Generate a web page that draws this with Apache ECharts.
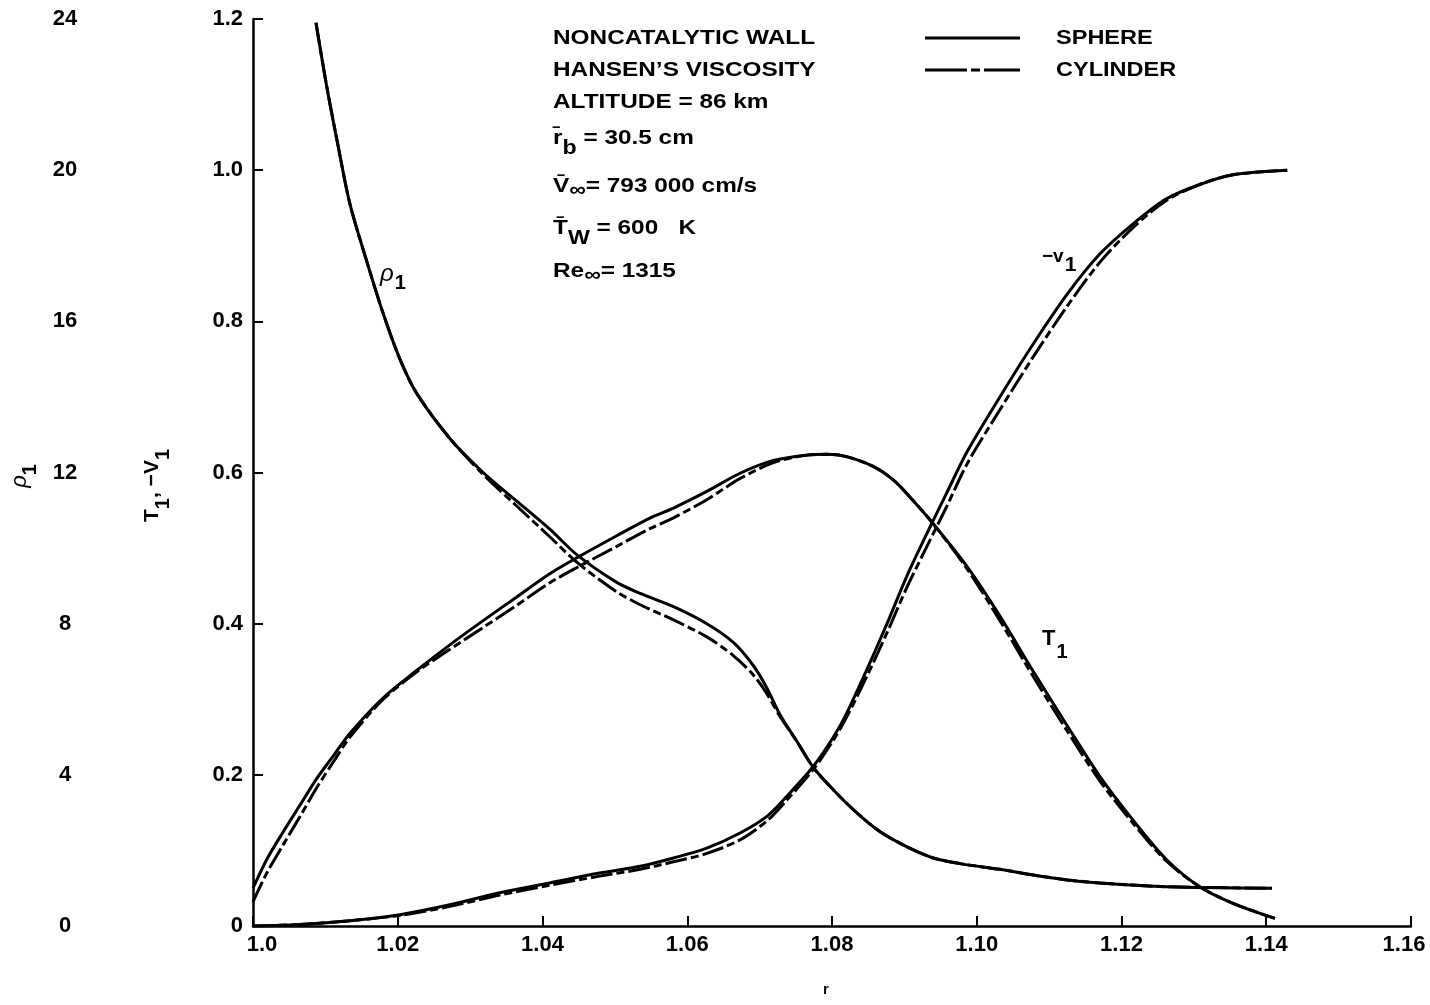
<!DOCTYPE html>
<html>
<head>
<meta charset="utf-8">
<script src="https://cdn.jsdelivr.net/npm/echarts/dist/echarts.min.js"></script>
<style>
  html, body { margin: 0; padding: 0; background: #fff; }
  #chart { width: 1430px; height: 1005px; }
</style>
</head>
<body>
<div id="chart"></div>
<script>
// Temperature T1 across the shock layer
const rTemp = [1.0, 1.0019, 1.0042, 1.0065, 1.0088, 1.0111, 1.0134, 1.018, 1.0226, 1.0272, 1.0318, 1.0364,
  1.041, 1.0449, 1.0502, 1.0549, 1.0581, 1.0627, 1.0673, 1.0719, 1.0765, 1.0793, 1.082, 1.0857, 1.0885,
  1.0912, 1.094, 1.0987, 1.1032, 1.1078, 1.1125, 1.117, 1.1216, 1.1262, 1.1308, 1.1354, 1.1412];
const tempSphere = [0.05, 0.088, 0.125, 0.16, 0.195, 0.225, 0.255, 0.302, 0.338, 0.372, 0.404, 0.435,
  0.466, 0.488, 0.516, 0.54, 0.553, 0.575, 0.599, 0.616, 0.623, 0.624, 0.621, 0.608, 0.59,
  0.563, 0.532, 0.475, 0.41, 0.337, 0.265, 0.198, 0.14, 0.088, 0.052, 0.030, 0.010];
const tempCylinder = [0.032, 0.07, 0.108, 0.145, 0.183, 0.217, 0.25, 0.3, 0.336, 0.366, 0.395, 0.424,
  0.454, 0.475, 0.502, 0.526, 0.54, 0.564, 0.592, 0.613, 0.623, 0.624, 0.621, 0.608, 0.59,
  0.563, 0.532, 0.472, 0.404, 0.33, 0.258, 0.192, 0.136, 0.086, 0.052, 0.030, 0.010];

// Normal velocity -v1
const rVel = [1.0, 1.0065, 1.0134, 1.0203, 1.0272, 1.0341, 1.041, 1.0479, 1.0535, 1.0581, 1.0627, 1.0673,
  1.071, 1.0737, 1.0774, 1.0802, 1.082, 1.0848, 1.0876, 1.0903, 1.0931, 1.0958, 1.0987, 1.1032,
  1.1078, 1.1125, 1.117, 1.1216, 1.1262, 1.1308, 1.1354, 1.1429];
const velSphere = [0.0, 0.002, 0.007, 0.015, 0.028, 0.044, 0.057, 0.070, 0.079, 0.090, 0.103, 0.123,
  0.145, 0.171, 0.211, 0.25, 0.281, 0.339, 0.40, 0.462, 0.519, 0.572, 0.628, 0.70,
  0.77, 0.836, 0.889, 0.929, 0.962, 0.981, 0.994, 1.0];
const velCylinder = [0.0, 0.002, 0.007, 0.014, 0.026, 0.041, 0.054, 0.066, 0.075, 0.085, 0.096, 0.114,
  0.139, 0.166, 0.207, 0.246, 0.276, 0.33, 0.388, 0.447, 0.502, 0.554, 0.612, 0.683,
  0.753, 0.82, 0.878, 0.924, 0.96, 0.981, 0.994, 1.0];

// Density rho1 (read on the outer left scale)
const rDens = [1.0087, 1.0102, 1.0118, 1.0134, 1.0157, 1.018, 1.0203, 1.0226, 1.0272, 1.0318, 1.0364,
  1.041, 1.0449, 1.0502, 1.0535, 1.0581, 1.0627, 1.0664, 1.0691, 1.071, 1.0728, 1.0751, 1.0774,
  1.0802, 1.0834, 1.0866, 1.0903, 1.094, 1.0977, 1.1032, 1.1078, 1.1125, 1.117, 1.1262, 1.1408];
const densSphere = [23.9, 22.2, 20.6, 19.1, 17.6, 16.2, 15.0, 14.1, 12.9, 12.0, 11.25,
  10.5, 9.8, 9.1, 8.8, 8.45, 8.0, 7.5, 6.9, 6.3, 5.6, 4.9, 4.2,
  3.6, 3.0, 2.5, 2.1, 1.8, 1.65, 1.5, 1.35, 1.22, 1.14, 1.04, 1.0];
const densCylinder = [23.9, 22.2, 20.6, 19.1, 17.6, 16.2, 15.0, 14.1, 12.9, 11.95, 11.12,
  10.3, 9.6, 8.85, 8.5, 8.1, 7.65, 7.15, 6.65, 6.15, 5.55, 4.9, 4.2,
  3.6, 3.0, 2.5, 2.1, 1.8, 1.65, 1.5, 1.35, 1.22, 1.14, 1.04, 1.0];

// Flow conditions block
const conditionLines = [
  '{m|NONCATALYTIC WALL}',
  '{m|HANSEN\u2019S VISCOSITY}',
  '{m|ALTITUDE = 86 km}',
  '{m|r\u0304}{s|b}{m| = 30.5 cm}',
  '{m|V\u0304}{i|\u221E}{m|= 793 000 cm/s}',
  '{m|T\u0304}{s|W}{m| = 600   K}',
  '{m|Re}{i|\u221E}{m|= 1315}'
];
const conditionCenters = [38, 70, 102, 138, 186, 228, 271];
const legendNames = ['SPHERE', 'CYLINDER'];

const F = '"Liberation Sans", Arial, Helvetica, sans-serif';
const BLACK = '#000';

function pairs(xs, ys) { return xs.map((x, i) => [x, ys[i]]); }

const solidLine = { color: BLACK, width: 3 };
const dashDotLine = { color: BLACK, width: 3, type: [22, 4, 8, 4] };

function curve(name, data, lineStyle, yAxisIndex) {
  return {
    type: 'line', name, data, yAxisIndex,
    showSymbol: false, smooth: 0.3,
    lineStyle, itemStyle: { color: BLACK }, silent: true
  };
}

const textRich = {
  m: { fontFamily: F, fontWeight: 'bold', fontSize: 21, lineHeight: 22, verticalAlign: 'top', color: BLACK },
  s: { fontFamily: F, fontWeight: 'bold', fontSize: 20, padding: [11, 0, 0, 0], verticalAlign: 'top', color: BLACK },
  i: { fontFamily: F, fontWeight: 'bold', fontSize: 20, padding: [5, 0, 0, 0], verticalAlign: 'top', color: BLACK }
};

const graphics = [];
conditionLines.forEach((t, k) => {
  graphics.push({
    type: 'text', x: 553, y: conditionCenters[k] - 10.5, scaleX: 1.16,
    style: { text: t, rich: textRich, verticalAlign: 'top', align: 'left' }
  });
});

// key for the two body shapes
graphics.push({ type: 'line', shape: { x1: 925, y1: 38, x2: 1020, y2: 38 }, style: { stroke: BLACK, lineWidth: 3 } });
graphics.push({ type: 'line', shape: { x1: 925, y1: 70, x2: 1020, y2: 70 }, style: { stroke: BLACK, lineWidth: 3, lineDash: [42, 4, 9, 4] } });
legendNames.forEach((n, k) => {
  graphics.push({
    type: 'text', x: 1056, y: [38, 70][k] - 10.5, scaleX: 1.12,
    style: { text: '{m|' + n + '}', rich: textRich, verticalAlign: 'top', align: 'left' }
  });
});

// curve labels
graphics.push({
  type: 'text', x: 380, y: 262,
  style: {
    text: '{p|\u03C1}{s|1}', verticalAlign: 'top', align: 'left',
    rich: {
      p: { fontFamily: F, fontStyle: 'italic', fontSize: 24, verticalAlign: 'top', color: BLACK },
      s: { fontFamily: F, fontWeight: 'bold', fontSize: 20, padding: [11, 0, 0, 1], verticalAlign: 'top', color: BLACK }
    }
  }
});
graphics.push({
  type: 'text', x: 1042, y: 247,
  style: {
    text: '{a|\u2212v}{b|1}', verticalAlign: 'top', align: 'left',
    rich: {
      a: { fontFamily: F, fontWeight: 'bold', fontSize: 19, verticalAlign: 'top', color: BLACK },
      b: { fontFamily: F, fontWeight: 'bold', fontSize: 21, padding: [8, 0, 0, 1], verticalAlign: 'top', color: BLACK }
    }
  }
});
graphics.push({
  type: 'text', x: 1042, y: 628,
  style: {
    text: '{a|T}{b|1}', verticalAlign: 'top', align: 'left',
    rich: {
      a: { fontFamily: F, fontWeight: 'bold', fontSize: 22, verticalAlign: 'top', color: BLACK },
      b: { fontFamily: F, fontWeight: 'bold', fontSize: 20, padding: [14, 0, 0, 1], verticalAlign: 'top', color: BLACK }
    }
  }
});

const tickFont = { color: BLACK, fontFamily: F, fontWeight: 'bold', fontSize: 22 };

const nameRich = {
  m: { fontFamily: F, fontWeight: 'bold', fontSize: 21, verticalAlign: 'top', color: BLACK },
  s: { fontFamily: F, fontWeight: 'bold', fontSize: 20, padding: [11, 0, 0, 0], verticalAlign: 'top', color: BLACK },
  p: { fontFamily: F, fontStyle: 'italic', fontSize: 22, verticalAlign: 'top', color: BLACK }
};

const option = {
  animation: false,
  backgroundColor: '#fff',
  grid: { left: 253, right: 19, top: 19, bottom: 79, containLabel: false },
  xAxis: {
    type: 'value', min: 1.0, max: 1.16, interval: 0.02,
    name: 'r', nameLocation: 'middle', nameGap: 56,
    nameTextStyle: { color: BLACK, fontFamily: F, fontWeight: 'bold', fontSize: 15, padding: [0, 12, 0, 0] },
    axisLine: { show: true, onZero: false, lineStyle: { color: BLACK, width: 2.5 } },
    axisTick: { show: true, inside: true, length: 10, lineStyle: { color: BLACK, width: 2 } },
    splitLine: { show: false },
    axisLabel: Object.assign({}, tickFont, {
      margin: 8,
      formatter: v => {
        if (Math.abs(v - 1) < 1e-9) return '{first|1.0}';
        if (Math.abs(v - 1.16) < 1e-9) return '{last|1.16}';
        return v.toFixed(2);
      },
      rich: {
        first: Object.assign({}, tickFont, { padding: [0, 0, 0, 18] }),
        last: Object.assign({}, tickFont, { padding: [0, 14, 0, 0] })
      }
    })
  },
  yAxis: [
    {
      type: 'value', min: 0, max: 1.2, interval: 0.2, position: 'left',
      name: '{m|T}{s|1}{m|, \u2212V}{s|1}', nameLocation: 'middle', nameRotate: 90, nameGap: 80,
      nameTextStyle: { rich: nameRich, padding: [0, 26, 0, 0] },
      axisLine: { show: true, onZero: false, lineStyle: { color: BLACK, width: 2.5 } },
      axisTick: { show: true, inside: true, length: 10, lineStyle: { color: BLACK, width: 2 } },
      splitLine: { show: false },
      axisLabel: Object.assign({}, tickFont, {
        margin: 10, padding: [5, 0, 0, 0],
        formatter: v => (v === 0 ? '0' : v.toFixed(1))
      })
    },
    {
      type: 'value', min: 0, max: 24, interval: 4, position: 'left', offset: 188,
      name: '{p|\u03C1}{s|1}', nameLocation: 'middle', nameRotate: 90, nameGap: 25,
      nameTextStyle: { rich: nameRich, padding: [0, 7, 0, 0] },
      axisLine: { show: false },
      axisTick: { show: false },
      splitLine: { show: false },
      axisLabel: Object.assign({}, tickFont, { margin: 0, align: 'center', padding: [5, 0, 0, 0] })
    }
  ],
  graphic: graphics,
  series: [
    curve('CYLINDER', pairs(rTemp, tempCylinder), dashDotLine, 0),
    curve('CYLINDER', pairs(rVel, velCylinder), dashDotLine, 0),
    curve('CYLINDER', pairs(rDens, densCylinder), dashDotLine, 1),
    curve('SPHERE', pairs(rTemp, tempSphere), solidLine, 0),
    curve('SPHERE', pairs(rVel, velSphere), solidLine, 0),
    curve('SPHERE', pairs(rDens, densSphere), solidLine, 1)
  ]
};

const chart = echarts.init(document.getElementById('chart'), null, { renderer: 'canvas' });
chart.setOption(option);
</script>
</body>
</html>
